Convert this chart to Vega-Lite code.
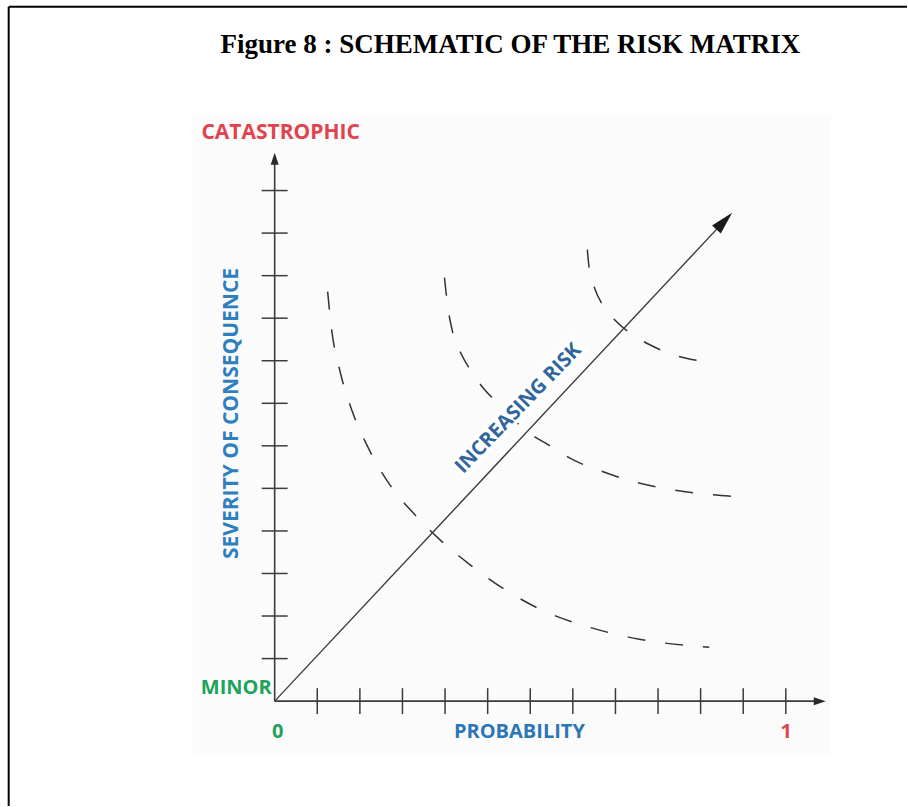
{
  "$schema": "https://vega.github.io/schema/vega-lite/v6.json",
  "width": 908,
  "height": 807,
  "autosize": {"type": "fit", "contains": "padding"},
  "padding": 0,
  "background": "white",
  "config": {"view": {"stroke": null}},
  "datasets": {
    "ticks": [
      {"v": 0.0833}, {"v": 0.1667}, {"v": 0.25}, {"v": 0.3333}, {"v": 0.4167}, {"v": 0.5},
      {"v": 0.5833}, {"v": 0.6667}, {"v": 0.75}, {"v": 0.8333}, {"v": 0.9167}, {"v": 1.0}
    ],
    "curves": [
      {"curve": "low", "p": 0.1036, "s": 0.8020},
      {"curve": "low", "p": 0.1114, "s": 0.7277},
      {"curve": "low", "p": 0.1270, "s": 0.6495},
      {"curve": "low", "p": 0.1505, "s": 0.5712},
      {"curve": "low", "p": 0.1817, "s": 0.4988},
      {"curve": "low", "p": 0.2247, "s": 0.4245},
      {"curve": "low", "p": 0.2736, "s": 0.3658},
      {"curve": "low", "p": 0.3225, "s": 0.3169},
      {"curve": "low", "p": 0.3811, "s": 0.2680},
      {"curve": "low", "p": 0.4495, "s": 0.2191},
      {"curve": "low", "p": 0.5277, "s": 0.1761},
      {"curve": "low", "p": 0.6156, "s": 0.1448},
      {"curve": "low", "p": 0.7133, "s": 0.1213},
      {"curve": "low", "p": 0.8501, "s": 0.1056},
      {"curve": "medium", "p": 0.3322, "s": 0.8294},
      {"curve": "medium", "p": 0.3381, "s": 0.7766},
      {"curve": "medium", "p": 0.3479, "s": 0.7238},
      {"curve": "medium", "p": 0.3655, "s": 0.6788},
      {"curve": "medium", "p": 0.3850, "s": 0.6455},
      {"curve": "medium", "p": 0.4104, "s": 0.6103},
      {"curve": "medium", "p": 0.4397, "s": 0.5810},
      {"curve": "medium", "p": 0.4886, "s": 0.5321},
      {"curve": "medium", "p": 0.5374, "s": 0.5008},
      {"curve": "medium", "p": 0.5863, "s": 0.4714},
      {"curve": "medium", "p": 0.6351, "s": 0.4519},
      {"curve": "medium", "p": 0.6938, "s": 0.4323},
      {"curve": "medium", "p": 0.7524, "s": 0.4186},
      {"curve": "medium", "p": 0.8306, "s": 0.4069},
      {"curve": "medium", "p": 0.8990, "s": 0.4010},
      {"curve": "high", "p": 0.6117, "s": 0.8842},
      {"curve": "high", "p": 0.6156, "s": 0.8451},
      {"curve": "high", "p": 0.6254, "s": 0.8099},
      {"curve": "high", "p": 0.6410, "s": 0.7766},
      {"curve": "high", "p": 0.6645, "s": 0.7473},
      {"curve": "high", "p": 0.6938, "s": 0.7218},
      {"curve": "high", "p": 0.7329, "s": 0.6984},
      {"curve": "high", "p": 0.7680, "s": 0.6827},
      {"curve": "high", "p": 0.8071, "s": 0.6710},
      {"curve": "high", "p": 0.8462, "s": 0.6651}
    ],
    "labels": [
      {"text": "CATASTROPHIC", "tone": "high", "p": 0.0117, "s": 1.1131},
      {"text": "MINOR", "tone": "low", "p": -0.0752, "s": 0.0254},
      {"text": "0", "tone": "low", "p": 0.0059, "s": -0.0606},
      {"text": "PROBABILITY", "tone": "name", "p": 0.4788, "s": -0.0606},
      {"text": "1", "tone": "high", "p": 1.0006, "s": -0.0606}
    ],
    "risk": [{"text": "INCREASING RISK", "p": 0.4768, "s": 0.5732}]
  },
  "layer": [
    {
      "data": {"values": [{}]},
      "mark": {"type": "rect", "fill": "#fbfbfb"},
      "encoding": {
        "x": {"datum": -0.1603, "type": "quantitative", "scale": {"domain": [-0.5374, 1.2371], "nice": false, "zero": false}, "axis": null},
        "x2": {"datum": 1.0885},
        "y": {"datum": 1.1483, "type": "quantitative", "scale": {"domain": [-0.2054, 1.3732], "nice": false, "zero": false}, "axis": null},
        "y2": {"datum": -0.1076}
      }
    },
    {
      "data": {"values": [{}]},
      "mark": {"type": "rule", "color": "black", "strokeWidth": 2},
      "encoding": {
        "x": {"datum": -0.5204, "type": "quantitative", "scale": {"domain": [-0.5374, 1.2371], "nice": false, "zero": false}, "axis": null},
        "y": {"datum": -0.2054, "type": "quantitative", "scale": {"domain": [-0.2054, 1.3732], "nice": false, "zero": false}, "axis": null},
        "y2": {"datum": 1.3601}
      }
    },
    {
      "data": {"values": [{}]},
      "mark": {"type": "rule", "color": "black", "strokeWidth": 2},
      "encoding": {
        "x": {"datum": -0.5204, "type": "quantitative", "scale": {"domain": [-0.5374, 1.2371], "nice": false, "zero": false}, "axis": null},
        "x2": {"datum": 1.2371},
        "y": {"datum": 1.3601, "type": "quantitative", "scale": {"domain": [-0.2054, 1.3732], "nice": false, "zero": false}, "axis": null}
      }
    },
    {
      "data": {"values": [{}]},
      "mark": {"type": "rule", "color": "#3c3c3c", "strokeWidth": 1.6},
      "encoding": {
        "x": {"datum": 0, "type": "quantitative", "scale": {"domain": [-0.5374, 1.2371], "nice": false, "zero": false}, "axis": null},
        "y": {"datum": 0, "type": "quantitative", "scale": {"domain": [-0.2054, 1.3732], "nice": false, "zero": false}, "axis": null},
        "y2": {"datum": 1.0622}
      }
    },
    {
      "data": {"values": [{}]},
      "mark": {"type": "rule", "color": "#3c3c3c", "strokeWidth": 1.6},
      "encoding": {
        "x": {"datum": 0, "type": "quantitative", "scale": {"domain": [-0.5374, 1.2371], "nice": false, "zero": false}, "axis": null},
        "x2": {"datum": 1.0664},
        "y": {"datum": 0, "type": "quantitative", "scale": {"domain": [-0.2054, 1.3732], "nice": false, "zero": false}, "axis": null}
      }
    },
    {
      "data": {"name": "ticks"},
      "mark": {"type": "rule", "color": "#3c3c3c", "strokeWidth": 1.5},
      "encoding": {
        "x": {"field": "v", "type": "quantitative", "scale": {"domain": [-0.5374, 1.2371], "nice": false, "zero": false}, "axis": null},
        "y": {"datum": -0.0254, "type": "quantitative", "scale": {"domain": [-0.2054, 1.3732], "nice": false, "zero": false}, "axis": null},
        "y2": {"datum": 0.0254}
      }
    },
    {
      "data": {"name": "ticks"},
      "mark": {"type": "rule", "color": "#3c3c3c", "strokeWidth": 1.5},
      "encoding": {
        "y": {"field": "v", "type": "quantitative", "scale": {"domain": [-0.2054, 1.3732], "nice": false, "zero": false}, "axis": null},
        "x": {"datum": -0.0254, "type": "quantitative", "scale": {"domain": [-0.5374, 1.2371], "nice": false, "zero": false}, "axis": null},
        "x2": {"datum": 0.0254}
      }
    },
    {
      "data": {"name": "curves"},
      "mark": {"type": "line", "color": "#333333", "strokeWidth": 1.5, "strokeDash": [18, 20], "interpolate": "monotone"},
      "encoding": {
        "x": {"field": "p", "type": "quantitative", "scale": {"domain": [-0.5374, 1.2371], "nice": false, "zero": false}, "axis": null},
        "y": {"field": "s", "type": "quantitative", "scale": {"domain": [-0.2054, 1.3732], "nice": false, "zero": false}, "axis": null},
        "detail": {"field": "curve", "type": "nominal"}
      }
    },
    {
      "data": {"name": "risk"},
      "mark": {"type": "text", "font": "Open Sans", "fontWeight": "bold", "fontSize": 20, "align": "center", "baseline": "middle", "angle": 314, "color": "white", "stroke": "white", "strokeWidth": 7},
      "encoding": {
        "x": {"field": "p", "type": "quantitative", "scale": {"domain": [-0.5374, 1.2371], "nice": false, "zero": false}, "axis": null},
        "y": {"field": "s", "type": "quantitative", "scale": {"domain": [-0.2054, 1.3732], "nice": false, "zero": false}, "axis": null},
        "text": {"field": "text", "type": "nominal"}
      }
    },
    {
      "data": {"values": [{}]},
      "mark": {"type": "rule", "color": "#3c3c3c", "strokeWidth": 1.4},
      "encoding": {
        "x": {"datum": 0, "type": "quantitative", "scale": {"domain": [-0.5374, 1.2371], "nice": false, "zero": false}, "axis": null},
        "x2": {"datum": 0.8796},
        "y": {"datum": 0, "type": "quantitative", "scale": {"domain": [-0.2054, 1.3732], "nice": false, "zero": false}, "axis": null},
        "y2": {"datum": 0.9401}
      }
    },
    {
      "data": {"values": [{}]},
      "mark": {"type": "point", "shape": "M0,-1L0.667,1L-0.667,1Z", "filled": true, "color": "#2a2a2a", "opacity": 1, "size": 144, "angle": 0},
      "encoding": {
        "x": {"datum": 0, "type": "quantitative", "scale": {"domain": [-0.5374, 1.2371], "nice": false, "zero": false}, "axis": null},
        "y": {"datum": 1.0622, "type": "quantitative", "scale": {"domain": [-0.2054, 1.3732], "nice": false, "zero": false}, "axis": null}
      }
    },
    {
      "data": {"values": [{}]},
      "mark": {"type": "point", "shape": "M0,-1L0.667,1L-0.667,1Z", "filled": true, "color": "#2a2a2a", "opacity": 1, "size": 144, "angle": 90},
      "encoding": {
        "x": {"datum": 1.0664, "type": "quantitative", "scale": {"domain": [-0.5374, 1.2371], "nice": false, "zero": false}, "axis": null},
        "y": {"datum": 0, "type": "quantitative", "scale": {"domain": [-0.2054, 1.3732], "nice": false, "zero": false}, "axis": null}
      }
    },
    {
      "data": {"values": [{}]},
      "mark": {"type": "point", "shape": "M0,-1L0.52,1L-0.52,1Z", "filled": true, "color": "#1a1a1a", "opacity": 1, "size": 529, "angle": 43.1},
      "encoding": {
        "x": {"datum": 0.8796, "type": "quantitative", "scale": {"domain": [-0.5374, 1.2371], "nice": false, "zero": false}, "axis": null},
        "y": {"datum": 0.9401, "type": "quantitative", "scale": {"domain": [-0.2054, 1.3732], "nice": false, "zero": false}, "axis": null}
      }
    },
    {
      "data": {"name": "labels"},
      "mark": {"type": "text", "font": "Open Sans", "fontWeight": "bold", "fontSize": 20, "align": "center", "baseline": "middle"},
      "encoding": {
        "x": {"field": "p", "type": "quantitative", "scale": {"domain": [-0.5374, 1.2371], "nice": false, "zero": false}, "axis": null},
        "y": {"field": "s", "type": "quantitative", "scale": {"domain": [-0.2054, 1.3732], "nice": false, "zero": false}, "axis": null},
        "text": {"field": "text", "type": "nominal"},
        "size": {"condition": {"test": "datum.text === 'CATASTROPHIC'", "value": 21}, "value": 20},
        "color": {"field": "tone", "type": "nominal", "scale": {"domain": ["high", "low", "name"], "range": ["#e0434e", "#1fa35c", "#2b76b6"]}, "legend": null}
      }
    },
    {
      "data": {"values": [{"text": "SEVERITY OF CONSEQUENCE", "p": -0.084, "s": 0.5634}]},
      "mark": {"type": "text", "font": "Open Sans", "fontWeight": "bold", "fontSize": 21, "align": "center", "baseline": "middle", "angle": 270, "color": "#2d7fc0"},
      "encoding": {
        "x": {"field": "p", "type": "quantitative", "scale": {"domain": [-0.5374, 1.2371], "nice": false, "zero": false}, "axis": null},
        "y": {"field": "s", "type": "quantitative", "scale": {"domain": [-0.2054, 1.3732], "nice": false, "zero": false}, "axis": null},
        "text": {"field": "text", "type": "nominal"}
      }
    },
    {
      "data": {"name": "risk"},
      "mark": {"type": "text", "font": "Open Sans", "fontWeight": "bold", "fontSize": 20, "align": "center", "baseline": "middle", "angle": 314, "color": "#30669e"},
      "encoding": {
        "x": {"field": "p", "type": "quantitative", "scale": {"domain": [-0.5374, 1.2371], "nice": false, "zero": false}, "axis": null},
        "y": {"field": "s", "type": "quantitative", "scale": {"domain": [-0.2054, 1.3732], "nice": false, "zero": false}, "axis": null},
        "text": {"field": "text", "type": "nominal"}
      }
    },
    {
      "data": {"values": [{"text": "Figure 8 : SCHEMATIC OF THE RISK MATRIX", "p": 0.4612, "s": 1.2852}]},
      "mark": {"type": "text", "font": "Liberation Serif", "fontWeight": "bold", "fontSize": 27, "align": "center", "baseline": "middle", "color": "black"},
      "encoding": {
        "x": {"field": "p", "type": "quantitative", "scale": {"domain": [-0.5374, 1.2371], "nice": false, "zero": false}, "axis": null},
        "y": {"field": "s", "type": "quantitative", "scale": {"domain": [-0.2054, 1.3732], "nice": false, "zero": false}, "axis": null},
        "text": {"field": "text", "type": "nominal"}
      }
    }
  ]
}
